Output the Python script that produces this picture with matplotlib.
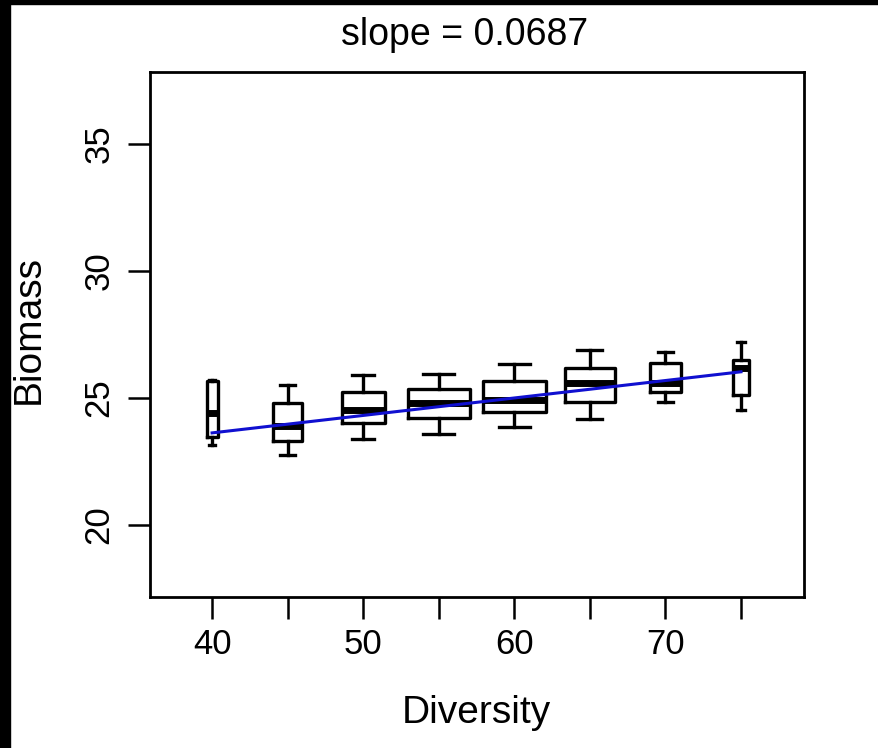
import matplotlib
matplotlib.use("Agg")
import matplotlib.pyplot as plt
from matplotlib.patches import Rectangle

plt.rcParams['font.family'] = ['Liberation Sans', 'DejaVu Sans']

# Diversity groups and box statistics
diversity = [40, 45, 50, 55, 60, 65, 70, 75]
whisker_low = [23.15, 22.76, 23.37, 23.58, 23.87, 24.16, 24.83, 24.53]
q1 = [23.48, 23.31, 24.03, 24.20, 24.46, 24.85, 25.25, 25.12]
median = [24.42, 23.91, 24.53, 24.79, 24.92, 25.60, 25.60, 26.17]
q3 = [25.68, 24.79, 25.24, 25.34, 25.68, 26.19, 26.37, 26.50]
whisker_high = [25.70, 25.51, 25.91, 25.94, 26.34, 26.89, 26.81, 27.22]

# linear fit
slope = 0.0687
intercept = 20.88

y_ticks = [20, 25, 30, 35]
x_ticks = [40, 45, 50, 55, 60, 65, 70, 75]
x_ticklabels = ['40', '', '50', '', '60', '', '70', '']

# box widths (varwidth style), data units
box_widths = [0.73, 1.92, 2.85, 4.1, 4.15, 3.3, 2.05, 1.06]

fig = plt.figure(figsize=(8.79, 7.48), dpi=100)
ax = fig.add_axes([150 / 879, 1 - 597 / 748, (804 - 150) / 879, (597 - 72) / 748])

stats = []
for i in range(len(diversity)):
    stats.append({
        'whislo': whisker_low[i], 'q1': q1[i], 'med': median[i],
        'q3': q3[i], 'whishi': whisker_high[i], 'fliers': [],
    })

ax.bxp(stats, positions=diversity, widths=box_widths, showfliers=False,
       manage_ticks=False, capwidths=[w * 0.5 for w in box_widths],
       boxprops=dict(color='black', linewidth=2.4),
       whiskerprops=dict(color='black', linewidth=2.4),
       capprops=dict(color='black', linewidth=2.4),
       medianprops=dict(color='black', linewidth=5, solid_capstyle='butt'))

xs = [diversity[0], diversity[-1]]
ax.plot(xs, [intercept + slope * x for x in xs], color='#1010d0', linewidth=2.2, zorder=5)

ax.set_xlim(35.89, 79.17)
ax.set_ylim(17.17, 37.83)
ax.set_xticks(x_ticks)
ax.set_xticklabels(x_ticklabels)
ax.set_yticks(y_ticks)
ax.set_yticklabels([str(t) for t in y_ticks], rotation=90, va='center')

ax.tick_params(axis='both', length=16, width=1.8, labelsize=25, direction='out')
ax.tick_params(axis='x', pad=6)
ax.tick_params(axis='y', pad=9)
for s in ax.spines.values():
    s.set_linewidth(2)

fig.text(465 / 879, 1 - 45 / 748, 'slope = 0.0687', fontsize=27, ha='center', va='baseline')
fig.text(476 / 879, 1 - 723 / 748, 'Diversity', fontsize=28, ha='center', va='baseline')
fig.text(29 / 879, 1 - 330 / 748, 'Biomass', fontsize=28, ha='center', va='center', rotation=90)

# black frame strips from the original screenshot
fig.patches.append(Rectangle((0, 0), 10 / 879, 1, transform=fig.transFigure, color='black', zorder=10))
fig.patches.append(Rectangle((0, 1 - 4 / 748), 1, 4 / 748, transform=fig.transFigure, color='black', zorder=10))

fig.savefig('out.png', dpi=100)
plt.close(fig)
